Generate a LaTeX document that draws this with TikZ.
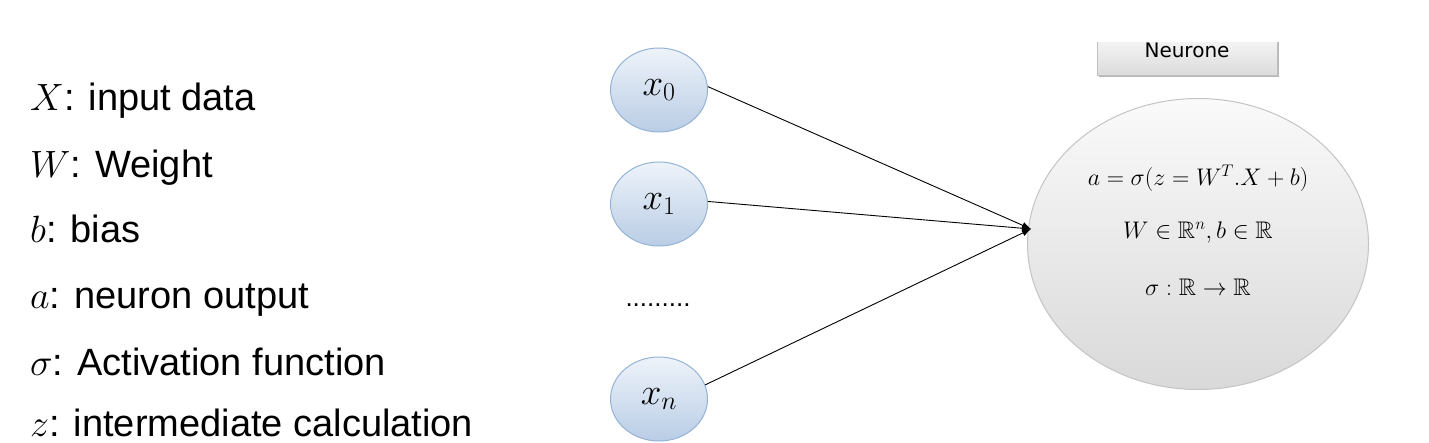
\documentclass[tikz,border=0pt]{standalone}
\usepackage{fix-cm}
\usepackage{amsmath,amssymb}
\usepackage[no-math]{fontspec}
\setmainfont{Liberation Sans}
\newfontfamily\dejavu{DejaVu Sans}
\usetikzlibrary{arrows.meta,shadows,shapes.geometric}
\definecolor{inborder}{HTML}{95B3D7}
\definecolor{intop}{HTML}{EEF3FA}
\definecolor{inbot}{HTML}{B9CDE5}
\definecolor{nborder}{HTML}{C4C4C4}
\definecolor{ntop}{HTML}{FAFAFA}
\definecolor{nbot}{HTML}{D9D9D9}
\tikzset{
  inp/.style={ellipse, draw=inborder, line width=1pt, top color=intop, bottom color=inbot,
    minimum width=97pt, minimum height=84pt, inner sep=0pt,
    font=\fontsize{37}{44}\selectfont},
  neuron/.style={ellipse, draw=nborder, line width=1pt, top color=ntop, bottom color=nbot,
    minimum width=341pt, minimum height=291pt, inner sep=0pt},
  formula/.style={font=\fontsize{24}{28}\selectfont, inner sep=0pt},
  legend/.style={anchor=base west, inner sep=0pt, font=\fontsize{38}{46}\selectfont},
  boxst/.style={rectangle, draw=gray!50, line width=0.5pt, top color=white, bottom color=gray!28,
    minimum width=180pt, minimum height=50pt, inner sep=0pt,
    font=\dejavu\fontsize{20}{24}\selectfont,
    drop shadow={shadow xshift=2pt, shadow yshift=-2pt, fill=gray!70, opacity=0.8}},
  conn/.style={draw=black, line width=0.9pt, -{Latex[length=9pt,width=7pt]}}
}
\begin{document}
\begin{tikzpicture}[x=1pt,y=-1pt]
\useasboundingbox (0,0) rectangle (1429,442);
\fill[white] (0,0) rectangle (1429,442);

% legend
\node[legend] (l1) at (30,110) {$X$: input data};
\node[legend] (l2) at (30,177) {$W$: Weight};
\node[legend] (l3) at (30,242) {$b$: bias};
\node[legend] (l4) at (30,308) {$a$: neuron output};
\node[legend] (l5) at (30,375) {$\sigma$: Activation function};
\node[legend] (l6) at (30,436) {$z$: intermediate calculation};

% inputs
\node[inp] (x0) at (659,90) {$x_0$};
\node[inp] (x1) at (659,204) {$x_1$};
\node[inp] (xn) at (659,399) {$x_n$};
\node[font=\fontsize{26}{30}\selectfont, inner sep=0pt] (dots) at (658,305) {.........};

% neuron
\node[neuron] (nr) at (1198,244) {};
\node[formula] (f1) at (1198,178) {$a=\sigma(z=W^{T}.X+b)$};
\node[formula] (f2) at (1198,232) {$W\in\mathbb{R}^{n},b\in\mathbb{R}$};
\node[formula] (f3) at (1198,287) {$\sigma:\mathbb{R}\rightarrow\mathbb{R}$};

% title box
\begin{scope}
\clip (1060,42) rectangle (1320,110);
\node[boxst] (nbox) at (1187,50) {Neurone};
\end{scope}

% connectors
\coordinate (tip) at (1031,229);
\draw[conn] (x0.4) -- (tip);
\draw[conn] (x1.3) -- (tip);
\draw[conn] (xn.17) -- (tip);
\end{tikzpicture}
\end{document}
